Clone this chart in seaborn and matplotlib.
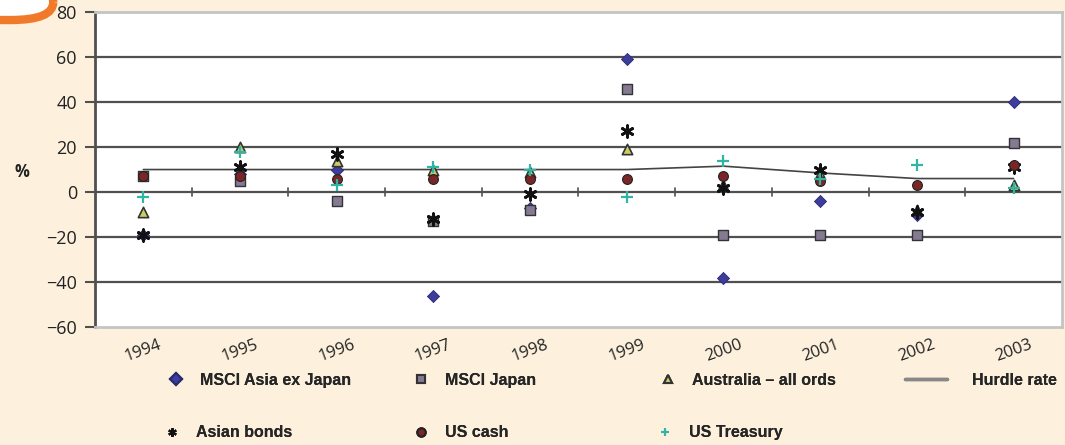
import matplotlib
matplotlib.use("Agg")
import matplotlib.pyplot as plt
from matplotlib.lines import Line2D
from matplotlib.patches import FancyBboxPatch
import seaborn as sns
import pandas as pd

years = ["1994", "1995", "1996", "1997", "1998", "1999", "2000", "2001", "2002", "2003"]
asia_ex_japan = [-19, 8, 10, -46, -7, 59, -38, -4, -10, 40]
msci_japan = [7, 5, -4, -13, -8, 46, -19, -19, -19, 22]
australia = [-9, 20, 14, 10, 9, 19, 3, 8, -8, 3]
asian_bonds = [-19, 11, 17, -12, -1, 27, 2, 10, -9, 11]
us_cash = [7, 7, 6, 6, 6, 6, 7, 5, 3, 12]
us_treasury = [-2, 18, 3, 11, 10, -2, 14, 6, 12, 2]
hurdle_rate = [10, 10, 10, 10, 10, 10, 11.5, 8.5, 6, 6]

series = [
    ("MSCI Asia ex Japan", asia_ex_japan, dict(marker="D", s=38, color="#3d3d9c", edgecolor="#2a2a70", linewidth=0.6)),
    ("MSCI Japan", msci_japan, dict(marker="s", s=42, color="#857a92", edgecolor="#333333", linewidth=1.0)),
    ("Australia – all ords", australia, dict(marker="^", s=55, color="#cccc66", edgecolor="#333333", linewidth=1.2)),
    ("Asian bonds", asian_bonds, dict(marker=(6, 2, 0), s=70, color="#111111", linewidth=2.0)),
    ("US cash", us_cash, dict(marker="o", s=50, color="#7a2626", edgecolor="#222222", linewidth=0.8)),
    ("US Treasury", us_treasury, dict(marker="+", s=75, color="#30b4a4", linewidth=1.6)),
]

sns.set_style("white")
plt.rcParams["font.family"] = ["Open Sans", "DejaVu Sans"]

fig = plt.figure(figsize=(10.65, 4.45), dpi=100, facecolor="#fdf1de")
ax = fig.add_axes([0.0892, 0.265, 0.9079, 0.708])
ax.set_facecolor("white")

ax.set_ylim(-60, 80)
ax.set_yticks(range(-60, 81, 20))
for v in range(-40, 61, 20):
    ax.axhline(v, color="#505050", lw=1.6, zorder=1)

hurdle = pd.DataFrame({"year": years, "rate": hurdle_rate})
sns.lineplot(data=hurdle, x="year", y="rate", ax=ax, color="#444444", lw=1.2, zorder=2)

for name, vals, kw in series:
    df = pd.DataFrame({"year": years, "value": vals})
    sns.scatterplot(data=df, x="year", y="value", ax=ax, zorder=3, **kw)

ax.set_xlim(-0.5, len(years) - 0.5)
# category-boundary ticks on the zero line
for b in range(1, len(years)):
    ax.plot([b - 0.5, b - 0.5], [-1.6, 1.6], color="#505050", lw=1.2, zorder=1)

ax.set_xlabel("")
ax.set_ylabel("")
ax.set_xticks(range(len(years)))
ax.set_xticklabels(years, rotation=20, fontsize=12, color="#222222")
ax.tick_params(axis="x", length=0, pad=7)
ax.set_yticklabels([f"{v}".replace("-", "\u2212") for v in range(-60, 81, 20)], fontsize=13, color="#222222")
ax.tick_params(axis="y", length=7, width=1.5, color="#505050", left=True, pad=6)

for side in ["top", "right", "bottom"]:
    ax.spines[side].set_color("#c4c4c4")
    ax.spines[side].set_linewidth(2)
ax.spines["left"].set_color("#505050")
ax.spines["left"].set_linewidth(2)

fig.text(0.014, 0.613, "%", fontsize=12, fontweight="bold", ha="left", va="center", color="#222222")

# decorative corner
fig.patches.append(FancyBboxPatch((-0.05, 0.955), 0.1, 0.08, boxstyle="round,pad=0,rounding_size=0.04",
                                  transform=fig.transFigure, facecolor="white", edgecolor="#f07a2a", lw=6))

# legend: one small legend per entry, laid out in two rows
handles = []
for name, vals, kw in series:
    handles.append(Line2D([], [], ls="none", marker=kw["marker"], markersize=6, color=kw["color"],
                          markeredgecolor=kw.get("edgecolor", kw["color"]), markeredgewidth=1.5, label=name))
hline = Line2D([], [], color="#888888", lw=2.5, label="Hurdle rate")
slots = [
    (handles[0], 0.158, 0.146), (handles[1], 0.388, 0.146), (handles[2], 0.620, 0.146), (hline, 0.850, 0.146),
    (handles[3], 0.154, 0.027), (handles[4], 0.388, 0.027), (handles[5], 0.617, 0.027),
]
for h, x, y in slots:
    wide = h is hline
    lg = fig.legend(handles=[h], loc="center left", bbox_to_anchor=(x, y), frameon=False,
                    handlelength=2.6 if wide else 1.0, handletextpad=1.6 if wide else 1.0,
                    borderaxespad=0, borderpad=0,
                    prop=dict(family=["Liberation Sans", "DejaVu Sans"], weight="bold", size=11.5))
    fig.add_artist(lg)

fig.savefig("out.png", dpi=100, facecolor=fig.get_facecolor())
